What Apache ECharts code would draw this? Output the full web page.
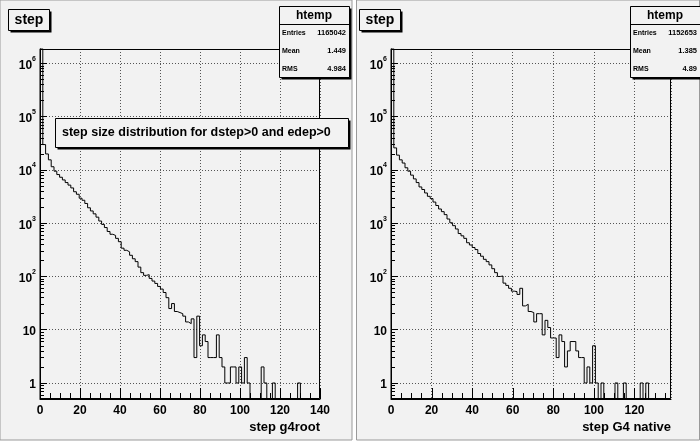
<!DOCTYPE html>
<html>
<head>
<meta charset="utf-8">
<script src="https://cdn.jsdelivr.net/npm/echarts@6/dist/echarts.min.js"></script>
<style>
  html, body { margin: 0; padding: 0; background: #fff; }
  #chart { width: 700px; height: 442px; }
</style>
</head>
<body>
<div id="chart"></div>
<script>
// histogram contents, 100 bins each
const leftCounts = [
  1900000, 30000, 20000, 15500, 11500, 9500, 8200, 7300, 6500, 5800,
  5200, 4600, 3900, 3500, 2950, 2700, 2350, 1950, 1700, 1500,
  1300, 1100, 950, 830, 700, 620, 590, 520, 450, 340,
  310, 290, 250, 215, 190, 150, 118, 105, 108, 92,
  82, 74, 65, 58, 50, 40, 25, 31, 22, 21,
  20, 18, 14, 13, 16, 3, 18, 5, 8, 6,
  3, 3, 3, 8, 3, 2, 1, 1, 2, 2,
  1, 2, 1, 3, 1, 0, 0, 0, 0, 2,
  1, 0, 0, 1, 0, 0, 0, 0, 0, 0,
  0, 0, 1, 0, 0, 0, 0, 0, 0, 0
];
const rightCounts = [
  1900000, 26000, 19000, 15500, 13500, 11000, 9500, 8000, 6800, 5800,
  4800, 4300, 3700, 3200, 2900, 2500, 2150, 1850, 1650, 1450,
  1200, 1020, 900, 780, 640, 580, 520, 430, 390, 350,
  320, 270, 240, 210, 190, 165, 140, 118, 100, 102,
  75, 68, 60, 53, 52, 46, 60, 28, 30, 22,
  21, 14, 20, 20, 8, 15, 11, 7, 7, 3,
  8, 6, 2, 4, 6, 6, 4, 3, 3, 1,
  2, 1, 5, 1, 0, 1, 0, 0, 0, 0,
  1, 0, 0, 1, 0, 0, 0, 0, 0, 1,
  0, 1, 0, 0, 0, 0, 0, 0, 0, 0
];
const leftRange = [0, 140];
const rightRange = [0, 138];
const xLabelStep = 20; // labelled x ticks: 0, 20, 40, ...
const xMinorStep = 5;
const yDecades = [0, 1, 2, 3, 4, 5, 6]; // log10 of 1 .. 1e6
const yRange = [0.5, 1870000];
const statNames = ['Entries', 'Mean', 'RMS'];
const leftStats = ['1165042', '1.449', '4.984'];
const rightStats = ['1152653', '1.385', '4.89'];
const xTitles = ['step g4root', 'step G4 native'];

const FONT = '"Liberation Sans", Arial, sans-serif';
const yLo = Math.log10(yRange[0]);
const yHi = Math.log10(yRange[1]);

// minor y ticks at 2..9 of every decade
const minorY = [];
for (let d = -1; d <= 6; d++) {
  for (let m = 2; m <= 9; m++) {
    const v = Math.log10(m) + d;
    if (v > yLo && v < yHi) minorY.push(v);
  }
}

// x ticks as [value, length in px]
function xTicks(range) {
  const out = [];
  for (let v = range[0]; v <= range[1]; v += xMinorStep) out.push([v, v % xLabelStep === 0 ? 11 : 6]);
  return out;
}

// ROOT-like histogram outline: start and end on the frame bottom, empty bins drop to the bottom
function stepData(counts, range) {
  const w = (range[1] - range[0]) / counts.length;
  const pts = [[range[0], yLo]];
  counts.forEach((c, i) => pts.push([range[0] + i * w, c > 0 ? Math.log10(c) : yLo]));
  pts.push([range[1], yLo]);
  return pts;
}

const grids = [
  { left: 40, top: 49, width: 280, height: 350 },
  { left: 391, top: 49, width: 280, height: 350 }
];
const ranges = [leftRange, rightRange];

const dotted = { type: [1, 2], color: '#555', width: 1 };
const xAxis = [];
const yAxis = [];
grids.forEach((g, i) => {
  xAxis.push({
    gridIndex: i, type: 'value', min: ranges[i][0], max: ranges[i][1], interval: xLabelStep,
    axisLine: { onZero: false, lineStyle: { color: '#000' } },
    axisTick: { show: false },
    axisLabel: {
      margin: 6, color: '#000', fontWeight: 'bold', fontSize: 12, fontFamily: FONT,
      formatter: v => (v % xLabelStep === 0 ? String(v) : '')
    },
    splitLine: { show: true, lineStyle: dotted }
  });
  yAxis.push({
    gridIndex: i, type: 'value', min: yLo, max: yHi, position: 'left',
    axisLine: { show: true, onZero: false, lineStyle: { color: '#000' } },
    axisTick: { show: true, inside: true, length: 7, customValues: yDecades, lineStyle: { color: '#000' } },
    axisLabel: {
      customValues: yDecades, margin: 4, color: '#000', fontFamily: FONT,
      formatter: v => {
        const n = Math.round(v);
        if (n === 0) return '{b|1}';
        if (n === 1) return '{b|10}';
        return '{b|10}{s|' + n + '}';
      },
      rich: {
        b: { fontSize: 12, fontWeight: 'bold', fontFamily: FONT, color: '#000', verticalAlign: 'bottom', lineHeight: 16 },
        s: { fontSize: 7, fontWeight: 'bold', fontFamily: FONT, color: '#000', verticalAlign: 'top', lineHeight: 16 }
      }
    },
    splitLine: { show: true, lineStyle: dotted }
  });
  yAxis.push({
    gridIndex: i, type: 'value', min: yLo, max: yHi, position: 'left',
    axisLine: { show: false, onZero: false },
    axisTick: { show: true, inside: true, length: 4, customValues: minorY, lineStyle: { color: '#000' } },
    axisLabel: { show: false }, splitLine: { show: false }
  });
});

const series = [];
[leftCounts, rightCounts].forEach((counts, i) => {
  series.push({
    type: 'line', xAxisIndex: i, yAxisIndex: i * 2,
    data: stepData(counts, ranges[i]),
    step: 'end', symbol: 'none', clip: true, silent: true,
    lineStyle: { color: '#000', width: 1 }
  });
  // x-axis tick marks, placed through the x scale, pointing up from the frame bottom
  series.push({
    type: 'custom', xAxisIndex: i, yAxisIndex: i * 2, silent: true, clip: false,
    data: xTicks(ranges[i]),
    renderItem: (params, api) => {
      const p = api.coord([api.value(0), yLo]);
      const x = Math.round(p[0]) + 0.5;
      return { type: 'line', shape: { x1: x, y1: p[1], x2: x, y2: p[1] - api.value(1) }, style: { stroke: '#000', lineWidth: 1 } };
    }
  });
});

// boxes: ROOT panes with a dark drop shadow
function pave(x, y, w, h, children) {
  return [
    { type: 'rect', z: 100, shape: { x: x + 2, y: y + 2, width: w, height: h }, style: { fill: '#000' } },
    { type: 'rect', z: 101, shape: { x: x, y: y, width: w, height: h }, style: { fill: '#f2f2f2', stroke: '#000', lineWidth: 1 } }
  ].concat(children.map(c => Object.assign({ z: 102 }, c)));
}
function txt(text, x, y, size, align) {
  return { type: 'text', style: { text: text, x: x, y: y, font: 'bold ' + size + 'px ' + FONT, fill: '#000', textAlign: align || 'left', textVerticalAlign: 'middle' } };
}

let graphic = [
  { type: 'rect', z: -5, shape: { x: 0, y: 0, width: 352, height: 440 }, style: { fill: '#f2f2f2', stroke: '#9a9a9a', lineWidth: 1 } },
  { type: 'rect', z: -5, shape: { x: 356.5, y: 0, width: 343, height: 440 }, style: { fill: '#f2f2f2', stroke: '#9a9a9a', lineWidth: 1 } },
  { type: 'rect', z: 50, shape: { x: 40.5, y: 49.5, width: 279, height: 349 }, style: { fill: 'none', stroke: '#000', lineWidth: 1 } },
  { type: 'rect', z: 50, shape: { x: 391.5, y: 49.5, width: 279, height: 349 }, style: { fill: 'none', stroke: '#000', lineWidth: 1 } }
];
const offsets = [0, 351];
const stats = [leftStats, rightStats];
[0, 1].forEach(i => {
  const ox = offsets[i];
  graphic = graphic.concat(pave(ox + 8.5, 9.5, 41, 21, [txt('step', ox + 29, 20.5, 14, 'center')]));
  const rows = [txt('htemp', ox + 314, 15.5, 12, 'center'),
    { type: 'line', shape: { x1: ox + 279, y1: 24.5, x2: ox + 349, y2: 24.5 }, style: { stroke: '#000', lineWidth: 1 } }];
  statNames.forEach((n, j) => {
    rows.push(txt(n, ox + 282, 33 + j * 18, 7));
    rows.push(txt(stats[i][j], ox + 346, 33 + j * 18, 7.5, 'right'));
  });
  graphic = graphic.concat(pave(ox + 279.5, 6.5, 70, 71, rows));
  graphic.push(Object.assign({ z: 60 }, txt(xTitles[i], grids[i].left + 280, 427, 13, 'right')));
});
graphic = graphic.concat(pave(55.5, 118.5, 293, 29, [txt('step size distribution for dstep>0 and edep>0', 62, 133, 12.5)]));

const chart = echarts.init(document.getElementById('chart'));
chart.setOption({
  backgroundColor: '#fff',
  animation: false,
  grid: grids.map(g => Object.assign({ show: false, containLabel: false }, g)),
  xAxis: xAxis,
  yAxis: yAxis,
  series: series,
  graphic: graphic
});
</script>
</body>
</html>
